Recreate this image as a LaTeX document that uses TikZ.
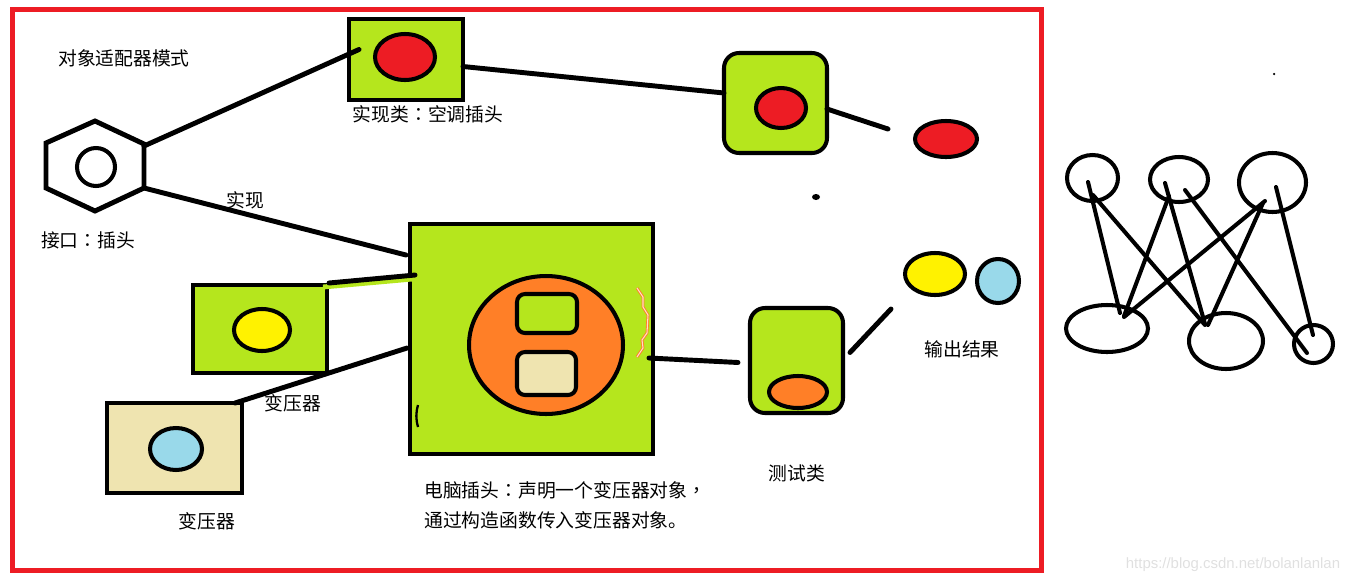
\documentclass[tikz,border=0pt]{standalone}
\usepackage{fontspec}
\newfontfamily\cjk{Noto Sans CJK SC}
\newfontfamily\cjkpunct{Noto Sans CJK TC}
\newfontfamily\wmfont{Liberation Sans}
\newcommand{\fwcolon}{{\cjkpunct ：}}
\newcommand{\fwcomma}{{\cjkpunct ，}}
\usetikzlibrary{shapes.geometric,calc}
\definecolor{paintred}{HTML}{ED1C24}
\definecolor{paintlime}{HTML}{B5E61D}
\definecolor{paintyellow}{HTML}{FFF200}
\definecolor{paintblue}{HTML}{99D9EA}
\definecolor{paintorange}{HTML}{FF7F27}
\definecolor{painttan}{HTML}{EFE4B0}
\tikzset{
  heavy/.style={line width=2.8pt},
  wire/.style={line width=2.8pt, line cap=round},
  box/.style={draw, heavy, rectangle, inner sep=0pt, outer sep=0pt},
  roundbox/.style={draw, line width=2.3pt, rectangle, rounded corners=0.3cm, inner sep=0pt, outer sep=0pt},
  slot/.style={draw, line width=2.3pt, rectangle, rounded corners=0.16cm, inner sep=0pt, outer sep=0pt},
  oval/.style={draw, line width=2.3pt, ellipse, inner sep=0pt, outer sep=0pt},
  label/.style={font=\cjk\fontsize{10.7}{13}\selectfont, inner sep=0pt},
  graphlink/.style={line width=2.3pt, line cap=round},
}
\begin{document}
\begin{tikzpicture}[x=0.02cm, y=-0.02cm]
        \useasboundingbox (0,0) rectangle (1356,582);
        \draw[heavy, paintred] (12.5,9.5) rectangle (1041.5,570.5);
        % interface: hexagon plug
        \draw[heavy, line join=miter] (46,143) -- (95,121) -- (144,144) -- (144,188) -- (95,211) -- (46,188) -- cycle;
        \coordinate (hexNE) at (144,146);
        \coordinate (hexSE) at (144,188);
        \node[oval, line width=2.3pt, circle, minimum size=0.76cm] (plugHole) at (96,167) {};
        \node[label] (title) at (124,58) {对象适配器模式};
        \node[label] (ifaceLbl) at (88,240) {接口\fwcolon 插头};
        \node[label] (implLbl) at (245,200) {实现};
        % implementation: air-conditioner plug
        \node[box, fill=paintlime, minimum width=2.28cm, minimum height=1.62cm] (acBox) at (406,59.5) {};
        \node[oval, fill=paintred, minimum width=1.2cm, minimum height=0.92cm] (acPin) at (405,57) {};
        \node[label] (acLbl) at (428,114) {实现类\fwcolon 空调插头};
        \node[roundbox, fill=paintlime, minimum width=2.06cm, minimum height=2.0cm] (acOut) at (775.5,103) {};
        \node[oval, fill=paintred, minimum width=1.0cm, minimum height=0.8cm] (acOutPin) at (781,108) {};
        \node[oval, fill=paintred, minimum width=1.24cm, minimum height=0.72cm] (redResult) at (946,139) {};
        \node[ellipse, fill, inner sep=0pt, minimum width=0.16cm, minimum height=0.12cm] (stray) at (816,197) {};
        \coordinate (acTip) at (888,129);
        % computer plug with transformer
        \node[box, fill=paintlime, minimum width=4.86cm, minimum height=4.6cm] (pcBox) at (531.5,339) {};
        \node[oval, fill=paintorange, minimum width=3.08cm, minimum height=2.76cm] (pcSocket) at (546,345) {};
        \node[slot, fill=paintlime, minimum width=1.2cm, minimum height=0.78cm] (pcSlotA) at (547,313.5) {};
        \node[slot, fill=painttan, minimum width=1.18cm, minimum height=0.86cm] (pcSlotB) at (546.5,373.5) {};
        \draw[paintorange, line width=0.5pt, double=paintorange!25, double distance=0.6pt] (637,288) -- (643,297) -- (643,307) -- (648,315) -- (647,333) -- (642,340) -- (643,348) -- (637,357);
        \draw[line width=1.3pt] (418,405) to[bend right=15] (418,427);
        \node[label, align=left, anchor=west] (pcLbl) at (424,505) {电脑插头\fwcolon 声明一个变压器对象\fwcomma\\[4pt]通过构造函数传入变压器对象。};
        % transformers
        \node[box, fill=paintlime, minimum width=2.68cm, minimum height=1.76cm] (ylBox) at (260,329) {};
        \node[oval, fill=paintyellow, minimum width=1.12cm, minimum height=0.84cm] (ylPin) at (262,330) {};
        \node[label] (ylLbl) at (293,403) {变压器};
        \node[box, fill=painttan, minimum width=2.7cm, minimum height=1.8cm] (tfBox) at (174.5,448) {};
        \node[oval, fill=paintblue, minimum width=1.04cm, minimum height=0.84cm] (tfPin) at (176,449) {};
        \node[label] (tfLbl) at (207,521) {变压器};
        % test class and results
        \node[roundbox, fill=paintlime, minimum width=1.86cm, minimum height=2.1cm] (testBox) at (796.5,360.5) {};
        \node[oval, fill=paintorange, minimum width=1.16cm, minimum height=0.64cm] (testPin) at (798,392) {};
        \node[label] (testLbl) at (797,473) {测试类};
        \node[oval, fill=paintyellow, minimum width=1.2cm, minimum height=0.84cm] (yellowResult) at (935,274) {};
        \node[oval, fill=paintblue, minimum width=0.84cm, minimum height=0.88cm] (blueResult) at (998,281) {};
        \node[label] (resultLbl) at (962,349) {输出结果};
        \coordinate (testTip) at (891,309);
        % connectors
        \draw[wire] (hexNE) -- ($(acBox.west)+(10,-10)$);
        \draw[wire] (hexSE) -- ($(pcBox.north west)+(-4,31)$);
        \draw[wire] ($(acBox.east)+(0,7)$) -- ($(acOut.west)+(0,-10)$);
        \draw[wire] ($(acOut.east)+(0,6)$) -- (acTip);
        \draw[line width=2.8pt, paintlime] ($(ylBox.north east)+(-4,2)$) -- ($(pcBox.north west)+(2,55)$);
        \draw[wire] ($(ylBox.north east)+(2,-2)$) -- ($(pcBox.north west)+(5,51)$);
        \draw[wire] ($(tfBox.north east)+(-7,0)$) -- ($(pcBox.north west)+(-3,124)$);
        \draw[wire] ($(pcBox.east)+(-4,19)$) -- ($(testBox.west)+(-12,2)$);
        \draw[wire] ($(testBox.east)+(7,-8)$) -- (testTip);
        % bipartite sketch
        \node[oval, minimum width=1.02cm, minimum height=0.92cm] (gA) at (1092.5,178) {};
        \node[oval, minimum width=1.16cm, minimum height=0.9cm] (gB) at (1179,179.5) {};
        \node[oval, minimum width=1.34cm, minimum height=1.18cm] (gC) at (1272.5,182.5) {};
        \node[oval, minimum width=1.64cm, minimum height=0.94cm] (gD) at (1107,328.5) {};
        \node[oval, minimum width=1.48cm, minimum height=1.12cm] (gE) at (1226,341) {};
        \node[oval, minimum width=0.78cm, minimum height=0.76cm] (gF) at (1313.5,344) {};
        \draw[graphlink] ($(gA)+(-4.5,4)$) -- ($(gD)+(13,-15.5)$);
        \draw[graphlink] ($(gA)+(0.5,17)$) -- ($(gE)+(-21,-16)$);
        \draw[graphlink] ($(gB)+(-10,16.5)$) -- ($(gD)+(17,-12.5)$);
        \draw[graphlink] ($(gB)+(-14,3.5)$) -- ($(gE)+(-21,-17)$);
        \draw[graphlink] ($(gB)+(6,10.5)$) -- ($(gF)+(-6.5,9)$);
        \draw[graphlink] ($(gC)+(-7.5,18.5)$) -- ($(gD)+(17,-11.5)$);
        \draw[graphlink] ($(gC)+(-9.5,20.5)$) -- ($(gE)+(-18,-16)$);
        \draw[graphlink] ($(gC)+(3.5,4.5)$) -- ($(gF)+(-0.5,-9)$);
        \node[circle, fill, inner sep=0pt, minimum size=0.05cm] (speck) at (1274,74) {};
        \node[font=\wmfont\fontsize{8.5}{10}\selectfont, text=black!12, inner sep=0pt] (watermark) at (1233,565) {https://blog.csdn.net/bolanlanlan};
\end{tikzpicture}
\end{document}
